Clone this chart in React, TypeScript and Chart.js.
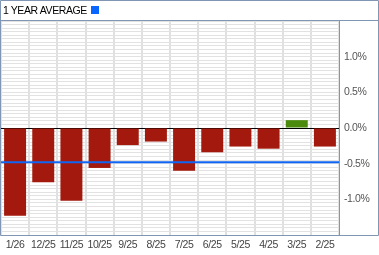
import React, { useEffect, useRef } from 'react';
import { Chart, registerables } from 'chart.js';

Chart.register(...registerables);

const categories = ['1/26', '12/25', '11/25', '10/25', '9/25', '8/25', '7/25', '6/25', '5/25', '4/25', '3/25', '2/25'];
const monthlyChange = [-1.23, -0.76, -1.02, -0.56, -0.24, -0.19, -0.6, -0.34, -0.26, -0.29, 0.11, -0.26];
const yearAverage = -0.48;
const yLabelValues = [-1.0, -0.5, 0, 0.5, 1.0];
const headerLabel = '1 YEAR AVERAGE';

const FONT = '"Liberation Sans", Arial, sans-serif';
const FRAME = '#8196b2';

const spacingPlugin = {
  id: 'spacing',
  beforeLayout(chart: any) {
    chart.ctx.letterSpacing = '-0.4px';
  },
  beforeDraw(chart: any) {
    chart.ctx.letterSpacing = '-0.4px';
  },
};

const framePlugin = {
  id: 'frame',
  afterDatasetsDraw(chart: any) {
    const { ctx, chartArea, scales } = chart;
    const yp = scales.y.getPixelForValue(yearAverage);
    ctx.save();
    ctx.strokeStyle = '#0f66f5';
    ctx.lineWidth = 2;
    ctx.beginPath();
    ctx.moveTo(chartArea.left, yp);
    ctx.lineTo(chartArea.right, yp);
    ctx.stroke();

    ctx.strokeStyle = FRAME;
    ctx.lineWidth = 1;
    ctx.beginPath();
    ctx.moveTo(0.5, 0.5);
    ctx.lineTo(378.5, 0.5);
    ctx.lineTo(378.5, chartArea.bottom + 0.5);
    ctx.lineTo(0.5, chartArea.bottom + 0.5);
    ctx.closePath();
    ctx.moveTo(0, chartArea.top - 0.5);
    ctx.lineTo(379, chartArea.top - 0.5);
    ctx.stroke();
    ctx.restore();
  },
};

export default function App() {
  const ref = useRef<HTMLCanvasElement>(null);
  useEffect(() => {
    const chart = new Chart(ref.current!, {
      type: 'bar',
      data: {
        labels: categories,
        datasets: [
          {
            data: monthlyChange,
            backgroundColor: monthlyChange.map((v) => (v >= 0 ? '#4a8a0c' : '#a3190d')),
            barPercentage: 0.78,
            categoryPercentage: 1,
          },
        ],
      },
      options: {
        responsive: false,
        animation: false,
        layout: { padding: { top: 21, left: 1, right: 0, bottom: 0 } },
        plugins: { legend: { display: false }, tooltip: { enabled: false } },
        scales: {
          x: {
            grid: { color: '#e0e0e0', lineWidth: 2, drawTicks: false, offset: true },
            border: { display: true, color: FRAME, width: 1 },
            ticks: { padding: 4, autoSkip: false, maxRotation: 0, color: '#444', font: { family: FONT, size: 10.5 } },
            afterFit: (s: any) => {
              s.height = 20;
            },
          },
          y: {
            position: 'right',
            min: -1.5,
            max: 1.5,
            grid: {
              drawTicks: false,
              lineWidth: 1,
              color: (c: any) => (c.tick && Math.abs(c.tick.value) < 1e-9 ? '#000000' : '#e2e2e2'),
            },
            border: { display: true, color: FRAME, width: 1 },
            ticks: {
              stepSize: 0.05,
              autoSkip: false,
              padding: 5,
              color: '#555',
              font: { family: FONT, size: 10.5 },
              callback: (v: any) => {
                const m = yLabelValues.find((t) => Math.abs(t - Number(v)) < 1e-6);
                return m === undefined ? '' : m.toFixed(1) + '%';
              },
            },
            afterFit: (s: any) => {
              s.width = 40;
            },
          },
        },
      },
      plugins: [spacingPlugin, framePlugin],
    } as any);
    return () => chart.destroy();
  }, []);

  return (
    <div style={{ position: 'absolute', left: 0, top: 0, width: 379, height: 255, background: '#fff' }}>
      <canvas ref={ref} width={379} height={255} style={{ display: 'block', width: 379, height: 255 }} />
      <div
        style={{
          position: 'absolute',
          left: 3,
          top: 3,
          font: `10.5px ${FONT}`,
          letterSpacing: '-0.4px',
          lineHeight: '14px',
          color: '#000',
          display: 'flex',
          alignItems: 'center',
          whiteSpace: 'nowrap',
        }}
      >
        {headerLabel}
        <span style={{ display: 'inline-block', width: 8, height: 8, background: '#0a64ff', marginLeft: 4 }} />
      </div>
    </div>
  );
}
